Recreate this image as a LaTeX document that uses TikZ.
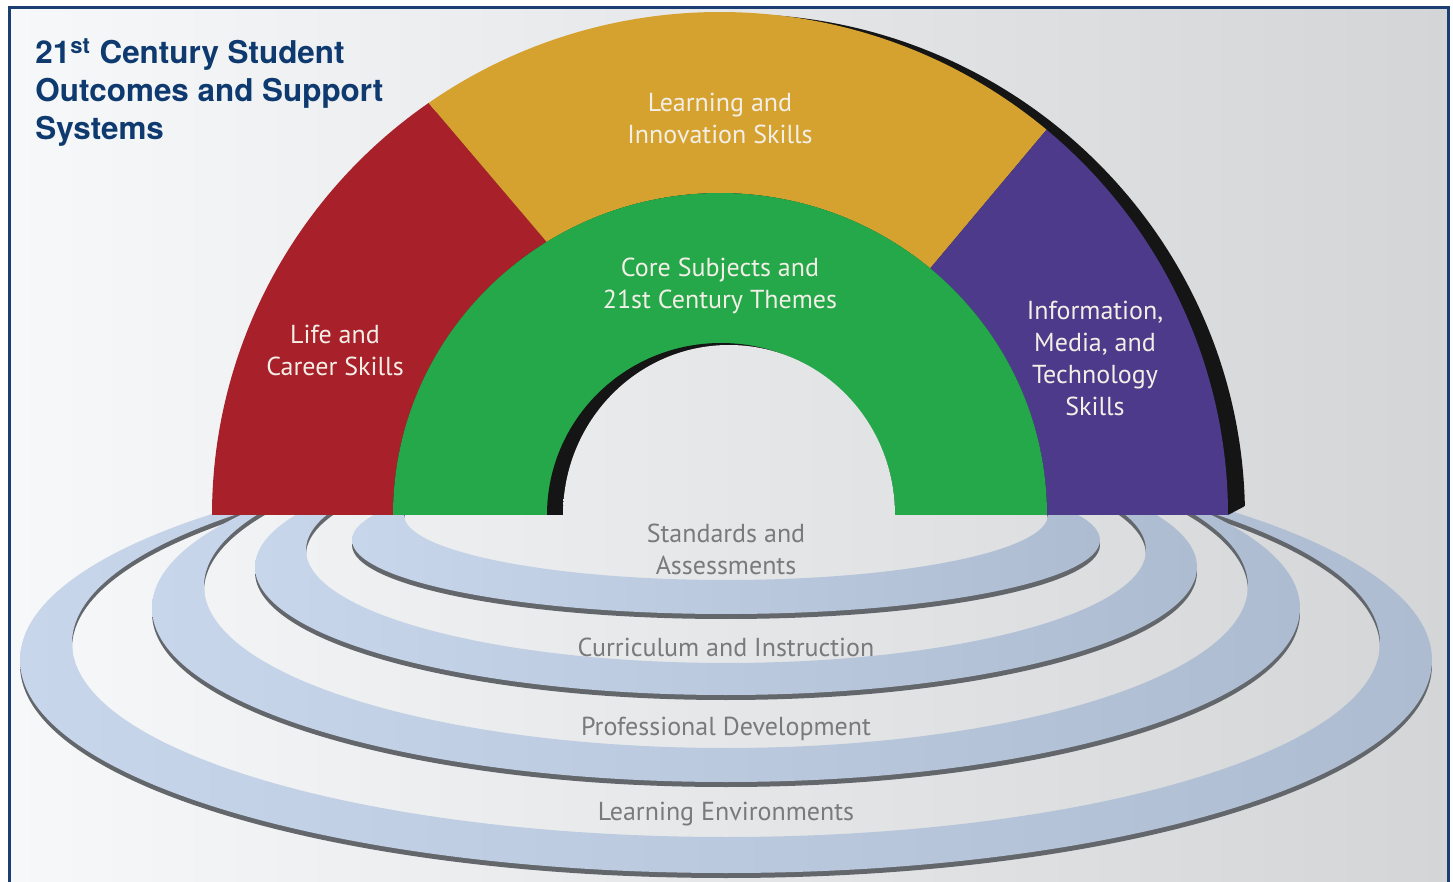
\documentclass[tikz,border=0pt]{standalone}
\usepackage{fontspec}
\setmainfont{PT Sans}
\newfontfamily\titlefont{TeX Gyre Heros}
\definecolor{redc}{HTML}{A8202A}
\definecolor{yellowc}{HTML}{D6A22F}
\definecolor{greenc}{HTML}{24A84A}
\definecolor{purplec}{HTML}{4D3A8B}
\definecolor{navy}{HTML}{0E3A6F}
\definecolor{framec}{HTML}{1C3F73}
\definecolor{cream}{HTML}{F3EFE6}
\definecolor{graytext}{HTML}{7A7A7A}
\definecolor{ringL}{HTML}{C7D6EA}
\definecolor{ringR}{HTML}{ADBCD0}
\definecolor{ringshadow}{HTML}{63676C}
\definecolor{bgL}{HTML}{F7F8F9}
\definecolor{bgM}{HTML}{E9EBEC}
\definecolor{bgR}{HTML}{D3D5D7}
\definecolor{shadowc}{HTML}{151515}
\newcommand\drawring[6]{%
  \fill[ringshadow,even odd rule] (726,#1+5) ellipse[x radius=#2,y radius=#3] (726,#4+5) ellipse[x radius=#5,y radius=#6];
  \shade[left color=ringL,right color=ringR,even odd rule] (726,#1) ellipse[x radius=#2,y radius=#3] (726,#4) ellipse[x radius=#5,y radius=#6];}
\tikzset{
  bgshade/.style={left color=bgL,middle color=bgM,right color=bgR},
  archlabel/.style={text=cream,align=center,inner sep=0pt,font=\fontsize{13}{16}\selectfont},
  ringlabel/.style={text=graytext,align=center,inner sep=0pt,font=\fontsize{13}{16}\selectfont},
}
\begin{document}
\begin{tikzpicture}[x=0.5pt,y=-0.5pt]
\useasboundingbox (0,0) rectangle (1453,882);
\fill[white] (0,0) rectangle (1453,882);
\shade[bgshade] (9,8) rectangle (1448,882);
% rings
\begin{scope}
  \clip (0,513) rectangle (1453,882);
  \drawring{660}{706}{213}{643}{654}{194}
  \drawring{608}{574}{174}{586}{522}{162}
  \drawring{567}{471}{128}{550}{420}{113}
  \drawring{540}{374}{74}{515}{322}{65}
\end{scope}
% outer black shadow
\begin{scope}
  \clip (0,0) -- (1453,0) -- (1453,505) -- (1247,505) -- (1228,515) -- (0,515) -- cycle;
  \fill[shadowc] (229,517) arc[start angle=-180,end angle=0,x radius=508,y radius=503] -- cycle;
\end{scope}
% arch segments
\coordinate (ro1) at ({720+508*cos(125)},{515-503*sin(125)});
\coordinate (ri1) at ({720+327*cos(122)},{515-322*sin(122)});
\coordinate (ro2) at ({720+508*cos(50)},{515-503*sin(50)});
\coordinate (ri2) at ({720+327*cos(50)},{515-322*sin(50)});
\fill[redc] (212,515) arc[start angle=-180,end angle=-125,x radius=508,y radius=503] -- (ri1) arc[start angle=-122,end angle=-180,x radius=327,y radius=322] -- cycle;
\fill[yellowc] (ro1) arc[start angle=-125,end angle=-50,x radius=508,y radius=503] -- (ri2) arc[start angle=-50,end angle=-122,x radius=327,y radius=322] -- cycle;
\fill[purplec] (ro2) arc[start angle=-50,end angle=0,x radius=508,y radius=503] -- (1047,515) arc[start angle=0,end angle=-50,x radius=327,y radius=322] -- cycle;
\fill[greenc] (393,515) arc[start angle=-180,end angle=0,x radius=327,y radius=322] -- cycle;
\fill[shadowc] (547,515) arc[start angle=-180,end angle=0,x radius=174,y radius=172] -- cycle;
\begin{scope}
  \clip (563,515) arc[start angle=-180,end angle=0,x radius=166,y radius=170] -- cycle;
  \shade[bgshade] (9,8) rectangle (1448,882);
\end{scope}
% frame
\draw[framec,line width=1.5pt] (9,920) -- (9,8) -- (1448,8) -- (1448,920);
% title
\node[anchor=north west,inner sep=0pt,align=left,text=navy,font=\titlefont\bfseries\fontsize{15.7}{19}\selectfont] (title) at (35,38) {21\textsuperscript{st} Century Student\\Outcomes and Support\\Systems};
% arch labels
\node[archlabel] (lis) at (720,118) {Learning and\\Innovation Skills};
\node[archlabel] (core) at (720,286) {Core Subjects and\\21st Century Themes};
\node[archlabel] (life) at (335,350) {Life and\\Career Skills};
\node[archlabel] (imt) at (1095,358) {Information,\\Media, and\\Technology\\Skills};
% ring labels
\node[ringlabel] (sa) at (726,549) {Standards and\\Assessments};
\node[ringlabel] (ci) at (726,647) {Curriculum and Instruction};
\node[ringlabel] (pd) at (726,729) {Professional Development};
\node[ringlabel] (le) at (726,814) {Learning Environments};
\end{tikzpicture}
\end{document}
